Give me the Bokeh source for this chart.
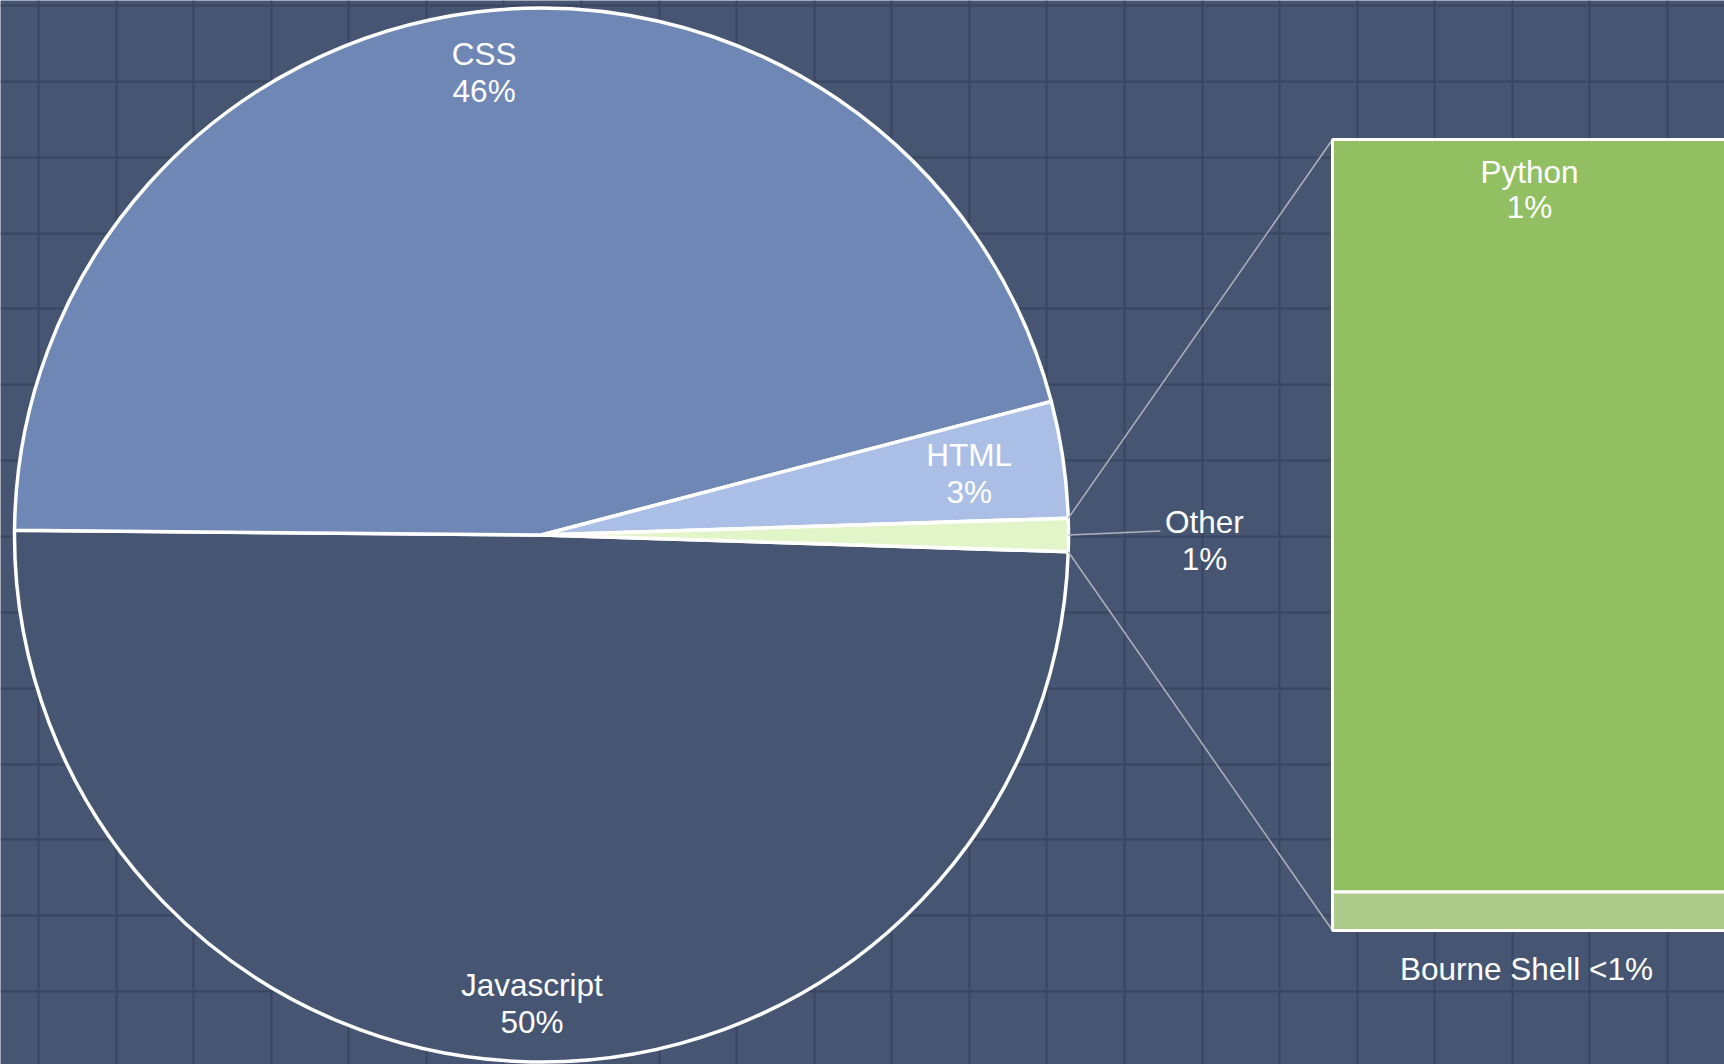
import numpy as np
from bokeh.plotting import figure
from bokeh.models import ColumnDataSource, Range1d, Grid, FixedTicker
from bokeh.core.properties import value
from bokeh.embed import file_html
from bokeh.resources import INLINE

# ---- data ----
categories = ["Javascript", "CSS", "HTML", "Other"]
values = [49.64, 45.78, 3.57, 1.01]
pct_labels = ["50%", "46%", "3%", "1%"]
slice_colors = ["#465571", "#6e87b4", "#abbfe6", "#e2f5c8"]

other_categories = ["Python", "Bourne Shell"]
other_values = [0.961, 0.049]
other_pct_labels = ["1%", "<1%"]
other_colors = ["#92bf62", "#adcb8a"]

# ---- layout constants (screen px, y measured upward) ----
W, H = 1724, 1064
BG = "#465571"
GRID = "#3a4661"
FONT = value("Liberation Sans")
FS = "31.5px"

CX, CY, R = 541.0, H - 534.5, 527.0
BAR_LEFT, BAR_RIGHT = 1332.0, 1726.0
BAR_TOP, BAR_BOTTOM = H - 139.0, H - 930.0

p = figure(width=W, height=H, output_backend="svg", toolbar_location=None,
           x_range=Range1d(0, W), y_range=Range1d(0, H),
           x_axis_type=None, y_axis_type=None, min_border=0,
           background_fill_color=BG, border_fill_color=BG, outline_line_color=None)
p.xgrid.visible = False
p.ygrid.visible = False

# background grid
vx = [38 + 77.57 * k for k in range(23)]
hy = [H - (5 + 75.85 * k) for k in range(15)]
p.add_layout(Grid(dimension=0, ticker=FixedTicker(ticks=vx), grid_line_color=GRID, grid_line_width=2))
p.add_layout(Grid(dimension=1, ticker=FixedTicker(ticks=hy), grid_line_color=GRID, grid_line_width=2))

# ---- pie ----
vals = np.array(values, dtype=float)
frac = vals / vals.sum()
oi = categories.index("Other")
order = [3, 2, 1, 0]  # anticlockwise from the right: Other, HTML, CSS, Javascript
starts, ends = [0.0] * 4, [0.0] * 4
cur = -frac[oi] * np.pi
for i in order:
    starts[i] = cur
    cur += frac[i] * 2 * np.pi
    ends[i] = cur

src = ColumnDataSource(dict(cat=categories, start=starts, end=ends, color=slice_colors))
p.wedge(x=CX, y=CY, radius=R, start_angle="start", end_angle="end", direction="anticlock",
        fill_color="color", line_color="white", line_width=3.5, source=src)

# slice labels
label_r = {"Javascript": 0.89, "CSS": 0.884, "HTML": 0.82}
lx, ly, ln, lp = [], [], [], []
for i, c in enumerate(categories):
    if c == "Other":
        continue
    mid = (starts[i] + ends[i]) / 2
    lx.append(CX + label_r[c] * R * np.cos(mid))
    ly.append(CY + label_r[c] * R * np.sin(mid))
    ln.append(c)
    lp.append(pct_labels[i])
p.text(x=lx, y=ly, text=ln, y_offset=-18.5, text_align="center", text_baseline="middle",
       text_color="white", text_font=FONT, text_font_size=FS)
p.text(x=lx, y=ly, text=lp, y_offset=18.5, text_align="center", text_baseline="middle",
       text_color="white", text_font=FONT, text_font_size=FS)

# Other label outside
omid = (starts[oi] + ends[oi]) / 2
ox = CX + 1.258 * R * np.cos(omid)
oy = CY + 1.258 * R * np.sin(omid) - 5
p.segment(x0=[CX + R * np.cos(omid)], y0=[CY + R * np.sin(omid)], x1=[ox - 44], y1=[oy + 9],
          line_color="#aeb2ba", line_width=1.5)
p.text(x=[ox], y=[oy], text=["Other"], y_offset=-18.5, text_align="center", text_baseline="middle",
       text_color="white", text_font=FONT, text_font_size=FS)
p.text(x=[ox], y=[oy], text=[pct_labels[oi]], y_offset=18.5, text_align="center", text_baseline="middle",
       text_color="white", text_font=FONT, text_font_size=FS)

# ---- connector lines ----
p.segment(x0=[CX + R * np.cos(ends[oi]), CX + R * np.cos(starts[oi])],
          y0=[CY + R * np.sin(ends[oi]), CY + R * np.sin(starts[oi])],
          x1=[BAR_LEFT, BAR_LEFT], y1=[BAR_TOP, BAR_BOTTOM],
          line_color="#aeb2ba", line_width=1.5)

# ---- stacked bar of "Other" ----
ov = np.array(other_values, dtype=float)
scale = (BAR_TOP - BAR_BOTTOM) / ov.sum()
tops, bottoms = [], []
t = BAR_TOP
for v in ov:
    tops.append(t)
    t -= v * scale
    bottoms.append(t)
bsrc = ColumnDataSource(dict(cat=other_categories, top=tops, bottom=bottoms, color=other_colors))
p.quad(left=BAR_LEFT, right=BAR_RIGHT, top="top", bottom="bottom", fill_color="color",
       line_color="white", line_width=3, source=bsrc)

bx = (BAR_LEFT + BAR_RIGHT) / 2
# Python label inside top of bar
p.text(x=[bx], y=[tops[0]], text=[other_categories[0]], y_offset=32.7, text_align="center",
       text_baseline="middle", text_color="white", text_font=FONT, text_font_size=FS)
p.text(x=[bx], y=[tops[0]], text=[other_pct_labels[0]], y_offset=67.7, text_align="center",
       text_baseline="middle", text_color="white", text_font=FONT, text_font_size=FS)
# Bourne Shell label below bar
p.text(x=[bx - 3], y=[bottoms[1]], text=[other_categories[1] + " " + other_pct_labels[1]], y_offset=38,
       text_align="center", text_baseline="middle", text_color="white", text_font=FONT, text_font_size=FS)

open("out.html", "w").write(file_html(p, INLINE))
